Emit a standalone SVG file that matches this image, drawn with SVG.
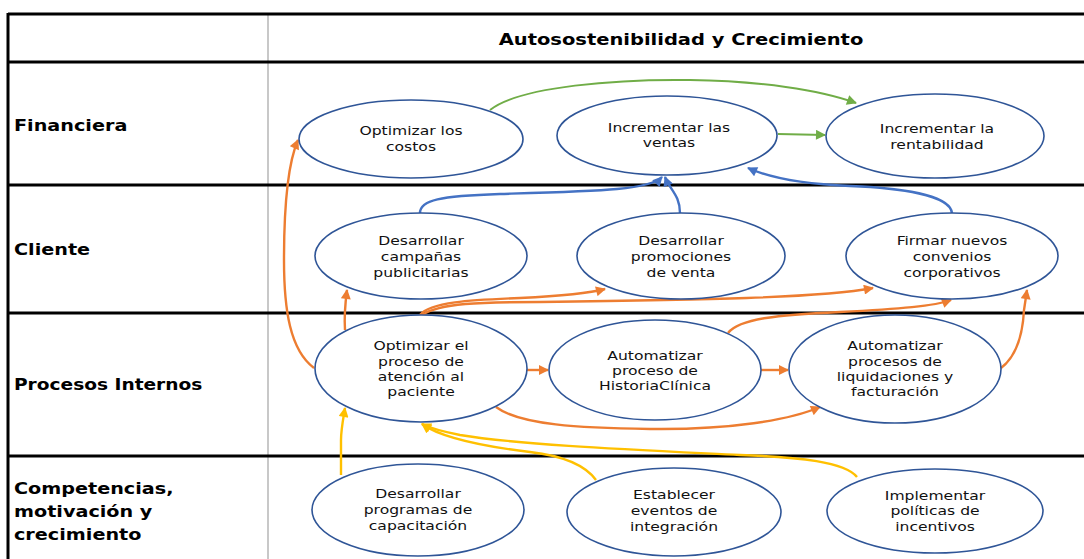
<svg xmlns="http://www.w3.org/2000/svg" width="1084" height="559" viewBox="0 0 1084 559">
<style>
.grid{stroke:#000;stroke-width:3;fill:none}
.gray{stroke:#c8c8c8;stroke-width:2;fill:none}
.node ellipse{fill:#fff;stroke:#2f5597;stroke-width:1.6}
.node text{font-family:"DejaVu Sans",Verdana,sans-serif;font-size:12px;fill:#111;text-anchor:middle}
.lbl{font-family:"DejaVu Sans",Verdana,sans-serif;font-weight:bold;font-size:15px;fill:#000}
.c{fill:none;stroke-width:2.4}
.o{stroke:#ed7d31}.g{stroke:#70ad47;stroke-width:2}.b{stroke:#4472c4}.y{stroke:#ffc000}
</style>
<defs>
<marker id="ao" viewBox="0 0 10 10" refX="9" refY="5" markerWidth="11" markerHeight="10" markerUnits="userSpaceOnUse" orient="auto"><path d="M0,0 L10,5 L0,10 z" fill="#ed7d31"/></marker>
<marker id="ag" viewBox="0 0 10 10" refX="9" refY="5" markerWidth="11" markerHeight="10" markerUnits="userSpaceOnUse" orient="auto"><path d="M0,0 L10,5 L0,10 z" fill="#70ad47"/></marker>
<marker id="ab" viewBox="0 0 10 10" refX="9" refY="5" markerWidth="11" markerHeight="10" markerUnits="userSpaceOnUse" orient="auto"><path d="M0,0 L10,5 L0,10 z" fill="#4472c4"/></marker>
<marker id="ay" viewBox="0 0 10 10" refX="9" refY="5" markerWidth="11" markerHeight="10" markerUnits="userSpaceOnUse" orient="auto"><path d="M0,0 L10,5 L0,10 z" fill="#ffc000"/></marker>
</defs>
<rect width="1084" height="559" fill="#fff"/>
<g id="table">
<line class="gray" x1="268" y1="14" x2="268" y2="559"/>
<line class="grid" x1="8" y1="14" x2="1084" y2="14"/>
<line class="grid" x1="8" y1="62" x2="1084" y2="62"/>
<line class="grid" x1="8" y1="185" x2="1084" y2="185"/>
<line class="grid" x1="8" y1="313" x2="1084" y2="313"/>
<line class="grid" x1="8" y1="456" x2="1084" y2="456"/>
<line class="grid" x1="8" y1="13" x2="8" y2="559"/>
<text class="lbl" transform="translate(681,0) scale(1.3,1)" x="0" y="45" text-anchor="middle">Autosostenibilidad y Crecimiento</text>
<text class="lbl" transform="translate(14,0) scale(1.28,1)" x="0" y="131">Financiera</text>
<text class="lbl" transform="translate(14,0) scale(1.28,1)" x="0" y="255">Cliente</text>
<text class="lbl" transform="translate(14,0) scale(1.24,1)" x="0" y="390">Procesos Internos</text>
<text class="lbl" transform="translate(14,0) scale(1.28,1)" x="0" y="494">Competencias,</text>
<text class="lbl" transform="translate(14,0) scale(1.28,1)" x="0" y="517">motivación y</text>
<text class="lbl" transform="translate(14,0) scale(1.28,1)" x="0" y="540">crecimiento</text>
</g>
<g id="connectors">
<path class="c g" d="M490,110 C520,86 620,79 690,80 C760,81 820,90 856,103" marker-end="url(#ag)"/>
<path class="c g" d="M778,134 L825,135" marker-end="url(#ag)"/>
<path class="c b" d="M420,213 C420,200 440,196 500,194 C600,191 650,190 662,177" marker-end="url(#ab)"/>
<path class="c b" d="M680,213 C680,195 670,190 665,177" marker-end="url(#ab)"/>
<path class="c b" d="M952,213 C950,195 900,188 850,186 C800,184 770,178 748,168" marker-end="url(#ab)"/>
<path class="c o" d="M314,368 C290,350 284,310 284,260 C284,210 287,165 298,140" marker-end="url(#ao)"/>
<path class="c o" d="M345,330 C344,315 345,305 347,290" marker-end="url(#ao)"/>
<path class="c o" d="M420,315 C430,302 470,300 520,298 C560,296 590,293 605,289" marker-end="url(#ao)"/>
<path class="c o" d="M422,315 C440,303 480,302 540,302 C700,300 820,298 873,288" marker-end="url(#ao)"/>
<path class="c o" d="M728,333 C740,318 780,315 840,312 C900,309 935,306 951,300" marker-end="url(#ao)"/>
<path class="c o" d="M527,370 L548,370" marker-end="url(#ao)"/>
<path class="c o" d="M761,370 L788,370" marker-end="url(#ao)"/>
<path class="c o" d="M496,407 C520,425 580,428 650,429 C730,430 790,420 820,407" marker-end="url(#ao)"/>
<path class="c o" d="M1001,368 C1018,355 1023,330 1024,310 L1027,290" marker-end="url(#ao)"/>
<path class="c y" d="M341,475 L341,440 C341,430 343,420 345,408" marker-end="url(#ay)"/>
<path class="c y" d="M857,477 C845,462 800,457 740,455 C640,450 520,445 460,435 C440,431 428,427 422,424" marker-end="url(#ay)"/>
<path class="c y" d="M596,480 C585,465 565,456 530,452 C480,446 440,437 422,424" marker-end="url(#ay)"/>
</g>
<g id="n1" class="node"><ellipse cx="411" cy="139" rx="112" ry="39"/><text transform="translate(411,0) scale(1.3,1)"><tspan x="0" y="135">Optimizar los</tspan><tspan x="0" y="151">costos</tspan></text></g>
<g id="n2" class="node"><ellipse cx="667" cy="135.5" rx="110" ry="39.5"/><text transform="translate(669,0) scale(1.3,1)"><tspan x="0" y="132">Incrementar las</tspan><tspan x="0" y="147">ventas</tspan></text></g>
<g id="n3" class="node"><ellipse cx="935" cy="136" rx="109" ry="42"/><text transform="translate(937,0) scale(1.3,1)"><tspan x="0" y="133">Incrementar la</tspan><tspan x="0" y="149">rentabilidad</tspan></text></g>
<g id="n4" class="node"><ellipse cx="421" cy="256" rx="106" ry="43"/><text transform="translate(421,0) scale(1.3,1)"><tspan x="0" y="245">Desarrollar</tspan><tspan x="0" y="261">campañas</tspan><tspan x="0" y="277">publicitarias</tspan></text></g>
<g id="n5" class="node"><ellipse cx="681" cy="256" rx="104" ry="43"/><text transform="translate(681,0) scale(1.3,1)"><tspan x="0" y="245">Desarrollar</tspan><tspan x="0" y="261">promociones</tspan><tspan x="0" y="277">de venta</tspan></text></g>
<g id="n6" class="node"><ellipse cx="952" cy="256" rx="106" ry="43"/><text transform="translate(952,0) scale(1.3,1)"><tspan x="0" y="245">Firmar nuevos</tspan><tspan x="0" y="261">convenios</tspan><tspan x="0" y="277">corporativos</tspan></text></g>
<g id="n7" class="node"><ellipse cx="421" cy="368.5" rx="106" ry="53.5"/><text transform="translate(421,0) scale(1.3,1)"><tspan x="0" y="350">Optimizar el</tspan><tspan x="0" y="366">proceso de</tspan><tspan x="0" y="381">atención al</tspan><tspan x="0" y="396">paciente</tspan></text></g>
<g id="n8" class="node"><ellipse cx="655" cy="370" rx="106" ry="50"/><text transform="translate(655,0) scale(1.3,1)"><tspan x="0" y="360">Automatizar</tspan><tspan x="0" y="375">proceso de</tspan><tspan x="0" y="390">HistoriaClínica</tspan></text></g>
<g id="n9" class="node"><ellipse cx="895" cy="369" rx="106" ry="54"/><text transform="translate(895,0) scale(1.3,1)"><tspan x="0" y="350">Automatizar</tspan><tspan x="0" y="366">procesos de</tspan><tspan x="0" y="381">liquidaciones y</tspan><tspan x="0" y="396">facturación</tspan></text></g>
<g id="n10" class="node"><ellipse cx="418" cy="510" rx="106" ry="46"/><text transform="translate(418,0) scale(1.3,1)"><tspan x="0" y="498">Desarrollar</tspan><tspan x="0" y="514">programas de</tspan><tspan x="0" y="530">capacitación</tspan></text></g>
<g id="n11" class="node"><ellipse cx="674" cy="512" rx="107" ry="44"/><text transform="translate(674,0) scale(1.3,1)"><tspan x="0" y="499">Establecer</tspan><tspan x="0" y="515">eventos de</tspan><tspan x="0" y="531">integración</tspan></text></g>
<g id="n12" class="node"><ellipse cx="935" cy="511" rx="108" ry="42"/><text transform="translate(935,0) scale(1.3,1)"><tspan x="0" y="500">Implementar</tspan><tspan x="0" y="515">políticas de</tspan><tspan x="0" y="531">incentivos</tspan></text></g>
</svg>
